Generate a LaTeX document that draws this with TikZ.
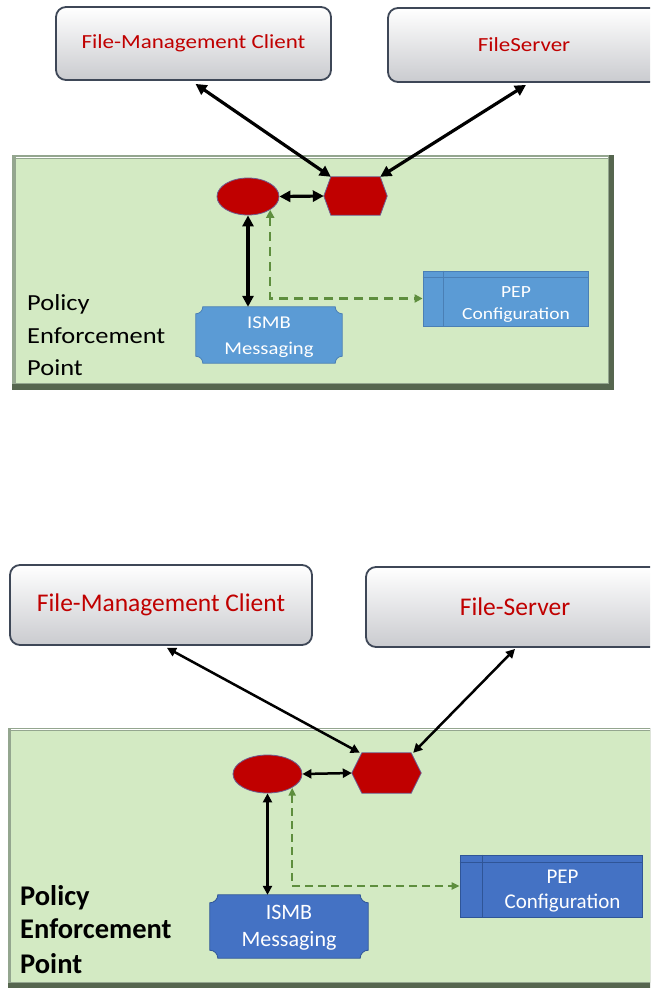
\documentclass[tikz,border=0pt]{standalone}
\usepackage{fontspec}
\setmainfont{Carlito}
\usepackage{graphicx}
\usetikzlibrary{arrows.meta,shapes.geometric,calc}
\definecolor{redtxt}{HTML}{C00000}
\definecolor{redfill}{HTML}{C00000}
\definecolor{redline}{HTML}{6F5B8E}
\definecolor{boxline}{HTML}{3E4757}
\definecolor{boxgray}{HTML}{CACBCF}
\definecolor{pgreen}{HTML}{D3EAC3}
\definecolor{frdark}{HTML}{56664F}
\definecolor{frlight}{HTML}{94A68F}
\definecolor{blueA}{HTML}{5B9BD5}
\definecolor{blueAl}{HTML}{4A7FB5}
\definecolor{blueB}{HTML}{4472C4}
\definecolor{blueBl}{HTML}{2F5597}
\definecolor{dgreen}{HTML}{5E8E3E}
\newcommand\hs[1]{\scalebox{1.15}[1]{#1}}
\tikzset{
  srvbox/.style={rectangle, rounded corners=10pt, draw=boxline, line width=1.8pt, top color=white, bottom color=boxgray, inner sep=0pt, text=redtxt},
  panel/.style={rectangle, inner sep=0pt, fill=frdark},
  redell/.style={ellipse, fill=redfill, draw=redline, line width=0.8pt, inner sep=0pt},
  hexbase/.style={rectangle, inner sep=0pt, draw=none},
  hexdraw/.style={fill=redfill, draw=redline, line width=0.8pt},
  plainbox/.style={rectangle, inner sep=0pt, draw=none},
  txt/.style={inner sep=0pt, align=center},
  wtxt/.style={inner sep=0pt, align=center, text=white},
  poltxt/.style={anchor=base west, inner sep=0pt},
  arrA/.style={{Triangle[length=11pt,width=11pt]}-{Triangle[length=11pt,width=11pt]}, line width=3.2pt, black},
  arrB/.style={{Triangle[length=9pt,width=9pt]}-{Triangle[length=9pt,width=9pt]}, line width=2.5pt, black},
  dashA/.style={{Triangle[length=8pt,width=8pt]}-{Triangle[length=8pt,width=8pt]}, line width=2.5pt, dgreen, dash pattern=on 9pt off 6pt},
  dashB/.style={{Triangle[length=8pt,width=7pt]}-{Triangle[length=8pt,width=7pt]}, line width=2.2pt, dgreen, dash pattern=on 8pt off 5pt},
}
\begin{document}
\begin{tikzpicture}[x=1pt,y=-1pt]
\useasboundingbox (0,0) rectangle (650,995);
\clip (0,0) rectangle (650,995);
\fill[white] (0,0) rectangle (650,995);

% ================= TOP DIAGRAM =================
\node[panel, minimum width=602pt, minimum height=235pt] (p1) at (313,272.5) {};
\fill[frlight] (p1.north west) rectangle ($(p1.south east)+(-5,-6)$);
\fill[pgreen] ($(p1.north west)+(4,4)$) rectangle ($(p1.south east)+(-6,-7)$);
\draw[white, line width=1.2pt] ($(p1.north west)+(4,2.5)$) -- ($(p1.north east)+(-6,2.5)$);

\node[srvbox, minimum width=275pt, minimum height=73pt, font=\fontsize{20}{24}\selectfont] (c1) at (193.5,43.5) {\hs{File-Management Client}};
\node[srvbox, minimum width=272pt, minimum height=74pt, font=\fontsize{20}{24}\selectfont] (s1) at (524,45) {\hs{FileServer}};

\node[redell, minimum width=62pt, minimum height=37pt] (e1) at (248,196.5) {};
\node[hexbase, minimum width=63pt, minimum height=38pt] (h1) at (355.5,196) {};
\filldraw[hexdraw] ($(h1.north west)+(7,0)$) -- ($(h1.north east)+(-7,0)$) -- (h1.east) -- ($(h1.south east)+(-7,0)$) -- ($(h1.south west)+(7,0)$) -- (h1.west) -- cycle;

\node[plainbox, minimum width=146pt, minimum height=56pt] (m1) at (269,335) {};
\filldraw[fill=blueA, draw=blueAl, line width=0.8pt] ($(m1.north west)+(7,0)$) -- ($(m1.north east)+(-7,0)$) arc[start angle=180,end angle=270,radius=7pt] -- ($(m1.south east)+(0,-7)$) arc[start angle=90,end angle=180,radius=7pt] -- ($(m1.south west)+(7,0)$) arc[start angle=0,end angle=90,radius=7pt] -- ($(m1.north west)+(0,7)$) arc[start angle=270,end angle=360,radius=7pt] -- cycle;
\node[wtxt, font=\fontsize{18}{26}\selectfont] (m1t) at (269,336) {\hs{\begin{tabular}{@{}c@{}}ISMB\\Messaging\end{tabular}}};

\node[plainbox, fill=blueA, draw=blueAl, line width=0.8pt, minimum width=165pt, minimum height=55pt] (q1) at (505.5,298.5) {};
\draw[blueAl, line width=1pt] ($(q1.north west)+(0,7)$) -- ($(q1.north east)+(0,7)$);
\draw[blueAl, line width=1pt] ($(q1.north west)+(21,0)$) -- ($(q1.south west)+(21,0)$);
\node[wtxt, font=\fontsize{17}{22}\selectfont] (q1t) at (516,304) {\hs{\begin{tabular}{@{}c@{}}PEP\\Configuration\end{tabular}}};

\node[poltxt, font=\fontsize{23}{33}\selectfont] (pa1) at (27,310) {\hs{Policy}};
\node[poltxt, font=\fontsize{23}{33}\selectfont] (pb1) at (27,343) {\hs{Enforcement}};
\node[poltxt, font=\fontsize{23}{33}\selectfont] (pc1) at (27,375) {\hs{Point}};

\draw[arrA] ($(c1.south)+(2,3)$) -- ($(h1.north west)+(7,0)$);
\draw[arrA] ($(s1.south)+(2,2)$) -- ($(h1.north east)+(-7,0)$);
\draw[arrA] (e1.east) -- (h1.west);
\draw[arrA] (e1.south) -- (e1.south |- m1.north);
\draw[dashA] (e1.south east) -- (e1.south east |- q1.west) -- (q1.west);

% ================= BOTTOM DIAGRAM =================
\node[panel, minimum width=657pt, minimum height=260pt] (p2) at (336.5,858) {};
\fill[frlight] (p2.north west) rectangle ($(p2.south east)+(-5,-5)$);
\fill[pgreen] ($(p2.north west)+(3,3)$) rectangle ($(p2.south east)+(-6,-6)$);
\draw[white, line width=1pt] ($(p2.north west)+(3,2)$) -- ($(p2.north east)+(-6,2)$);

\node[srvbox, minimum width=302pt, minimum height=80pt, font=\fontsize{25.5}{30}\selectfont] (c2) at (161,605) {File-Management Client};
\node[srvbox, minimum width=298pt, minimum height=80pt, font=\fontsize{25.5}{30}\selectfont] (s2) at (515,607) {File-Server};

\node[redell, minimum width=69pt, minimum height=38pt] (e2) at (267.5,774) {};
\node[hexbase, minimum width=69pt, minimum height=40pt] (h2) at (386.5,773) {};
\filldraw[hexdraw] ($(h2.north west)+(10,0)$) -- ($(h2.north east)+(-10,0)$) -- (h2.east) -- ($(h2.south east)+(-10,0)$) -- ($(h2.south west)+(10,0)$) -- (h2.west) -- cycle;

\node[plainbox, minimum width=158pt, minimum height=63pt] (m2) at (289,926.5) {};
\filldraw[fill=blueB, draw=blueBl, line width=0.8pt] ($(m2.north west)+(8,0)$) -- ($(m2.north east)+(-8,0)$) arc[start angle=180,end angle=270,radius=8pt] -- ($(m2.south east)+(0,-8)$) arc[start angle=90,end angle=180,radius=8pt] -- ($(m2.south west)+(8,0)$) arc[start angle=0,end angle=90,radius=8pt] -- ($(m2.north west)+(0,8)$) arc[start angle=270,end angle=360,radius=8pt] -- cycle;
\node[wtxt, font=\fontsize{22}{27}\selectfont] (m2t) at (289,928) {\begin{tabular}{@{}c@{}}ISMB\\Messaging\end{tabular}};

\node[plainbox, fill=blueB, draw=blueBl, line width=0.8pt, minimum width=182pt, minimum height=62pt] (q2) at (551,886) {};
\draw[blueBl, line width=1pt] ($(q2.north west)+(0,8)$) -- ($(q2.north east)+(0,8)$);
\draw[blueBl, line width=1pt] ($(q2.north west)+(23,0)$) -- ($(q2.south west)+(23,0)$);
\node[wtxt, font=\fontsize{21}{25}\selectfont] (q2t) at (562.5,891) {\begin{tabular}{@{}c@{}}PEP\\Configuration\end{tabular}};

\node[poltxt, font=\fontsize{28.5}{35}\selectfont\bfseries] (pa2) at (20,905) {Policy};
\node[poltxt, font=\fontsize{28.5}{35}\selectfont\bfseries] (pb2) at (20,938) {Enforcement};
\node[poltxt, font=\fontsize{28.5}{35}\selectfont\bfseries] (pc2) at (20,973) {Point};

\draw[arrB] ($(c2.south)+(6,2)$) -- ($(h2.north west)+(8,0)$);
\draw[arrB] ($(s2.south)+(0,1)$) -- ($(h2.north east)+(-8,0)$);
\draw[arrB] (e2.east) -- (h2.west);
\draw[arrB] (e2.south) -- (e2.south |- m2.north);
\draw[dashB] (e2.south east) -- (e2.south east |- q2.west) -- (q2.west);
\end{tikzpicture}
\end{document}
